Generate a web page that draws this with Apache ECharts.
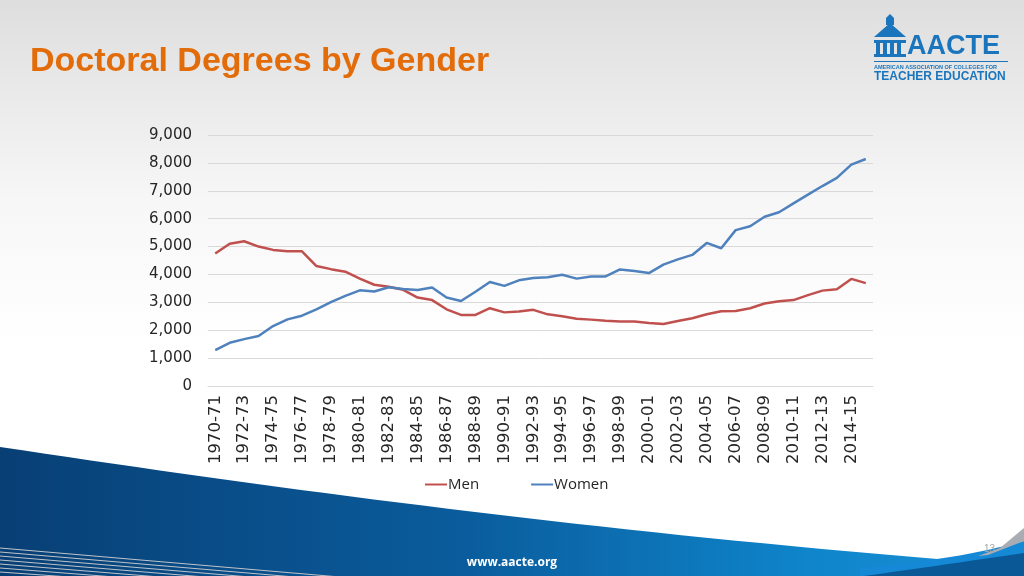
<!DOCTYPE html>
<html>
<head>
<meta charset="utf-8">
<script src="https://cdn.jsdelivr.net/npm/echarts@6/dist/echarts.min.js"></script>
<style>
  html, body { margin: 0; padding: 0; }
  #chart { width: 1024px; height: 576px; }
</style>
</head>
<body>
<div id="chart"></div>
<script>
// academic years 1970-71 .. 2015-16
const years = [];
for (let y = 1970; y <= 2015; y++) {
  years.push(y + '-' + String((y + 1) % 100).padStart(2, '0'));
}

const men = [4750, 5100, 5190, 5000, 4880, 4830, 4830, 4300, 4190, 4100,
  3850, 3630, 3560, 3450, 3170, 3080, 2750, 2550, 2550, 2790,
  2640, 2670, 2730, 2570, 2500, 2410, 2380, 2340, 2310, 2310,
  2260, 2220, 2330, 2430, 2570, 2680, 2690, 2790, 2960, 3040,
  3080, 3260, 3420, 3470, 3840, 3690];

const women = [1290, 1550, 1680, 1790, 2150, 2390, 2520, 2750, 3010, 3230,
  3430, 3390, 3540, 3480, 3440, 3530, 3170, 3050, 3380, 3730,
  3590, 3790, 3870, 3900, 3990, 3850, 3930, 3930, 4180, 4120,
  4050, 4350, 4540, 4700, 5130, 4940, 5590, 5730, 6070, 6230,
  6550, 6860, 7170, 7460, 7940, 8140];

// sample a cubic bezier into polygon points (slide decoration only)
function bez(p0, p1, p2, p3, n) {
  const pts = [];
  for (let i = 0; i <= n; i++) {
    const t = i / n, u = 1 - t;
    pts.push([
      u * u * u * p0[0] + 3 * u * u * t * p1[0] + 3 * u * t * t * p2[0] + t * t * t * p3[0],
      u * u * u * p0[1] + 3 * u * u * t * p1[1] + 3 * u * t * t * p2[1] + t * t * t * p3[1]
    ]);
  }
  return pts;
}

const darkSwoosh = bez([0, 447], [300, 492], [620, 535], [1024, 566], 40).concat([[1024, 578], [0, 578]]);
const brightBand = bez([860, 568], [930, 562], [980, 553], [1024, 541], 20).concat([[1024, 578], [860, 578]]);
const darkBand = bez([850, 578], [900, 571], [970, 561], [1024, 553], 20).concat([[1024, 578]]);
const grayStripe = [[978, 556], [1000, 548], [1024, 528], [1024, 541], [988, 555]];

const chart = echarts.init(document.getElementById('chart'));

const col = '#1b75bc';
const logoShapes = [
  { type: 'polygon', shape: { points: [[886, 25], [886, 18], [890, 14], [894, 18], [894, 25]] } },
  { type: 'polygon', shape: { points: [[874, 37], [890, 23], [906, 37]] } },
  { type: 'rect', shape: { x: 874, y: 40, width: 32, height: 3 } },
  { type: 'rect', shape: { x: 874, y: 54, width: 32, height: 3 } },
  { type: 'rect', shape: { x: 876, y: 43, width: 4, height: 11 } },
  { type: 'rect', shape: { x: 883, y: 43, width: 4, height: 11 } },
  { type: 'rect', shape: { x: 890, y: 43, width: 4, height: 11 } },
  { type: 'rect', shape: { x: 897, y: 43, width: 4, height: 11 } },
  { type: 'rect', shape: { x: 874, y: 61, width: 134, height: 1 } }
].map(s => Object.assign(s, { z: 5, silent: true, style: { fill: col } }));

const option = {
  backgroundColor: '#ffffff',
  animation: false,
  title: {
    text: 'Doctoral Degrees by Gender',
    left: 25,
    top: 40,
    textStyle: {
      color: '#e36c0a',
      fontFamily: 'Liberation Sans',
      fontWeight: 'bold',
      fontSize: 34
    }
  },
  graphic: [
    {
      type: 'rect', z: -10, silent: true,
      shape: { x: 0, y: 0, width: 1024, height: 576 },
      style: {
        fill: new echarts.graphic.LinearGradient(0, 0, 0, 1, [
          { offset: 0, color: '#dedede' },
          { offset: 0.35, color: '#f7f7f7' },
          { offset: 0.6, color: '#ffffff' },
          { offset: 1, color: '#ffffff' }
        ])
      }
    },
    {
      type: 'polygon', z: -9, silent: true,
      shape: { points: darkSwoosh },
      style: {
        fill: new echarts.graphic.LinearGradient(0, 0, 1, 0, [
          { offset: 0, color: '#083f75' },
          { offset: 0.45, color: '#0a5c9c' },
          { offset: 0.8, color: '#0f86cc' },
          { offset: 1, color: '#1d8fd6' }
        ])
      }
    },
    {
      type: 'polygon', z: -8, silent: true,
      shape: { points: brightBand },
      style: { fill: '#1589d6' }
    },
    {
      type: 'polygon', z: -7, silent: true,
      shape: { points: darkBand },
      style: { fill: '#0a5896' }
    },
    {
      type: 'polygon', z: -7, silent: true,
      shape: { points: grayStripe },
      style: { fill: '#a9adb3' }
    },
    ...[548, 552, 556, 560, 564, 568, 572].map((y, i) => ({
      type: 'line', z: -7, silent: true,
      shape: { x1: 0, y1: y, x2: 340 - i * 45, y2: 577 },
      style: { stroke: '#bfc4ca', lineWidth: 1 }
    })),
    {
      type: 'text', z: 5, silent: true,
      left: 'center', top: 557,
      style: { text: 'www.aacte.org', fill: '#ffffff', fontFamily: 'Open Sans', fontWeight: 'bold', fontSize: 12 }
    },
    {
      type: 'text', z: 5, silent: true,
      left: 984, top: 544,
      style: { text: '13', fill: '#a6a6a6', fontFamily: 'Liberation Sans', fontSize: 10 }
    },
    ...logoShapes,
    {
      type: 'text', z: 5, silent: true,
      left: 907, top: 33,
      style: { text: 'AACTE', fill: col, fontFamily: 'Liberation Sans', fontWeight: 'bold', fontSize: 27 }
    },
    {
      type: 'text', z: 5, silent: true,
      left: 874, top: 64,
      style: { text: 'AMERICAN ASSOCIATION OF COLLEGES FOR', fill: col, fontFamily: 'Liberation Sans', fontWeight: 'bold', fontSize: 5.5 }
    },
    {
      type: 'text', z: 5, silent: true,
      left: 874, top: 71,
      style: { text: 'TEACHER EDUCATION', fill: col, fontFamily: 'Liberation Sans', fontWeight: 'bold', fontSize: 12 }
    }
  ],
  legend: {
    data: ['Men', 'Women'],
    left: 420,
    top: 472,
    icon: 'rect',
    itemWidth: 22,
    itemHeight: 2,
    itemGap: 52,
    textStyle: { color: '#262626', fontFamily: 'Open Sans', fontSize: 15, padding: [0, 0, 0, -4] }
  },
  grid: {
    left: 208,
    right: 151,
    top: 135,
    bottom: 190,
    containLabel: false
  },
  xAxis: {
    type: 'category',
    data: years,
    boundaryGap: true,
    axisLine: { show: true, lineStyle: { color: '#d9d9d9' } },
    axisTick: { show: false },
    axisLabel: {
      interval: 1,
      rotate: 90,
      margin: 9,
      color: '#262626',
      fontFamily: 'DejaVu Sans',
      fontSize: 16.5
    }
  },
  yAxis: {
    type: 'value',
    min: 0,
    max: 9000,
    interval: 1000,
    axisLine: { show: false },
    axisTick: { show: false },
    splitLine: { lineStyle: { color: '#d9d9d9' } },
    axisLabel: {
      margin: 16,
      color: '#262626',
      fontFamily: 'DejaVu Sans',
      fontSize: 15,
      formatter: v => v.toLocaleString('en-US')
    }
  },
  series: [
    {
      name: 'Men',
      type: 'line',
      data: men,
      showSymbol: false,
      symbol: 'none',
      lineStyle: { color: '#c0504d', width: 2.5 },
      itemStyle: { color: '#c0504d' }
    },
    {
      name: 'Women',
      type: 'line',
      data: women,
      showSymbol: false,
      symbol: 'none',
      lineStyle: { color: '#4f81bd', width: 2.5 },
      itemStyle: { color: '#4f81bd' }
    }
  ]
};

chart.setOption(option);
</script>
</body>
</html>
